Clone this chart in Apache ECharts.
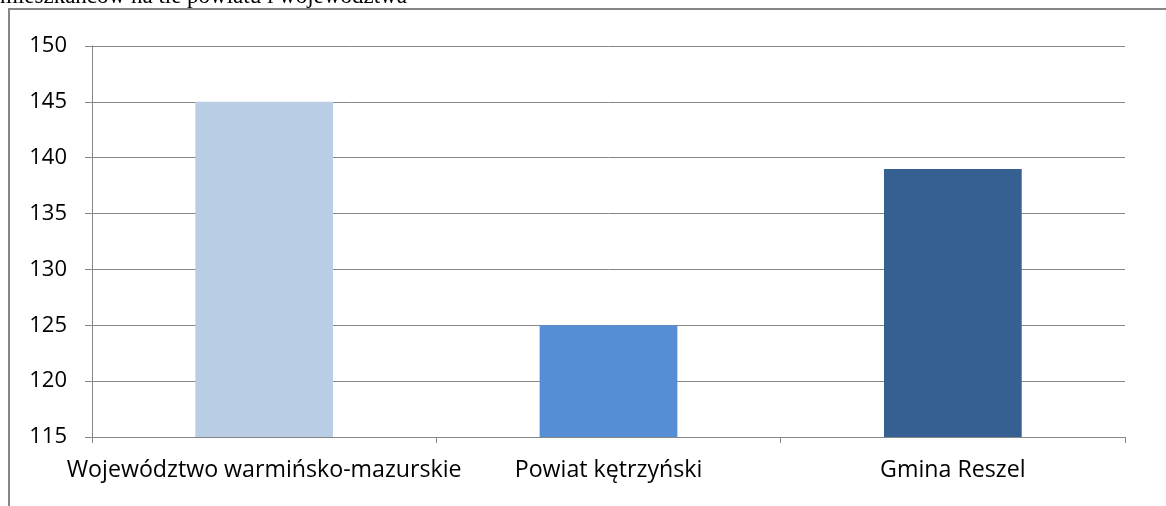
<!DOCTYPE html>
<html>
<head>
<meta charset="utf-8">
<script src="https://cdn.jsdelivr.net/npm/echarts@6/dist/echarts.min.js"></script>
<style>html,body{margin:0;padding:0;background:#fff;}#c{width:1166px;height:506px;}</style>
</head>
<body>
<div id="c"></div>
<script>
const categories = ['Województwo warmińsko-mazurskie', 'Powiat kętrzyński', 'Gmina Reszel'];
const values = [145, 125, 139];
const barColors = ['#B9CDE5', '#558ED5', '#376092'];
const titleText = 'mieszkańców na tle powiatu i województwa';

const chart = echarts.init(document.getElementById('c'), null, {renderer: 'canvas'});
chart.setOption({
  animation: false,
  backgroundColor: '#fff',
  graphic: [
    {type: 'rect', shape: {x: 9, y: 9, width: 1300, height: 700}, style: {fill: 'none', stroke: '#868686', lineWidth: 2}, z: 0},
    {type: 'text', x: 0, y: 8, style: {text: titleText, font: '23px "Liberation Serif"', fill: '#000', verticalAlign: 'bottom'}, z: 10}
  ],
  grid: {left: 92, top: 46, right: 41, bottom: 69},
  xAxis: {
    type: 'category',
    data: categories,
    axisLine: {lineStyle: {color: '#868686', width: 1}},
    axisTick: {show: true, length: 6, lineStyle: {color: '#868686'}},
    axisLabel: {interval: 0, color: '#000', fontFamily: 'Open Sans', fontSize: 23.2, margin: 22}
  },
  yAxis: {
    type: 'value',
    min: 115, max: 150, interval: 5,
    axisLine: {show: true, lineStyle: {color: '#868686', width: 1}},
    axisTick: {show: true, length: 7, lineStyle: {color: '#868686'}},
    splitLine: {lineStyle: {color: '#868686', width: 1}},
    axisLabel: {color: '#000', fontFamily: 'Open Sans', fontSize: 22, margin: 25}
  },
  series: [{
    type: 'bar',
    barWidth: '40%',
    data: values.map((v, i) => ({value: v, itemStyle: {color: barColors[i]}}))
  }]
});
</script>
</body>
</html>
